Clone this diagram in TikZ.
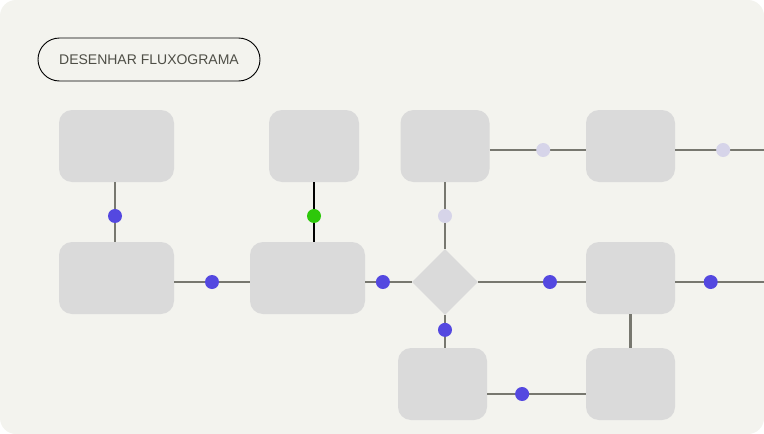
\documentclass[tikz,border=0pt]{standalone}
\usepackage{fontspec}
\setmainfont{Liberation Sans}
\usetikzlibrary{shapes.geometric}
\definecolor{bg}{HTML}{F3F3EE}
\definecolor{boxgray}{HTML}{DADADA}
\definecolor{linegray}{HTML}{77776F}
\definecolor{dotblue}{HTML}{5448E0}
\definecolor{dotgreen}{HTML}{2DC80A}
\definecolor{dotlav}{HTML}{D6D4E9}
\definecolor{labelgray}{HTML}{4E4E46}

\begin{document}
\begin{tikzpicture}[x=1pt, y=-1pt,
    block/.style={fill=boxgray, rounded corners=13pt, minimum height=72pt, inner sep=0pt},
    wideblock/.style={block, minimum width=115pt},
    narrowblock/.style={block, minimum width=89pt},
    choice/.style={diamond, fill=boxgray, minimum width=66pt, minimum height=66pt, inner sep=0pt},
    wire/.style={draw=linegray, line width=1.7pt},
    joint/.style={circle, fill=#1, minimum size=14pt, inner sep=0pt},
    pill/.style={draw=black, line width=0.9pt, rounded corners=21.5pt, minimum width=222pt, minimum height=43pt, text=labelgray, font=\fontsize{14}{16}\selectfont}]
    \useasboundingbox (0,0) rectangle (764,434);
    \fill[white] (0,0) rectangle (764,434);
    \fill[bg, rounded corners=16pt] (0,0) rectangle (764,434);
    \node[pill] (title) at (149,59.5) {DESENHAR FLUXOGRAMA};
    \node[wideblock] (a1) at (116.5,146) {};
    \node[wideblock] (a2) at (116.5,278) {};
    \node[narrowblock, minimum width=90pt] (b1) at (314,146) {};
    \node[wideblock] (b2) at (307.5,278) {};
    \node[narrowblock] (c1) at (445,146) {};
    \node[choice] (dec) at (445,282) {};
    \node[narrowblock] (c3) at (442.5,384) {};
    \node[narrowblock] (d1) at (630.5,146) {};
    \node[narrowblock] (d2) at (630.5,278) {};
    \node[narrowblock] (d3) at (630.5,384) {};
    \coordinate (out1) at (764,150);
    \coordinate (out2) at (764,282);
    \draw[wire, line width=2.1pt] ([xshift=-1.5pt]a1.south) -- node[joint=dotblue, pos=0.567] {} ([xshift=-1.5pt]a2.north);
    \draw[wire] ([yshift=-4pt]a2.east) -- node[joint=dotblue] {} ([yshift=-4pt]b2.west);
    \draw[black, line width=1.2pt] (b1.south) -- node[joint=dotgreen, pos=0.567] {} (b1.south |- b2.north);
    \draw[wire] ([yshift=-4pt]b2.east) -- node[joint=dotblue, pos=0.38] {} (dec.west);
    \draw[wire, line width=2.1pt] (c1.south) -- node[joint=dotlav, pos=0.507] {} (dec.north);
    \draw[wire] ([yshift=-4pt]c1.east) -- node[joint=dotlav, pos=0.557] {} ([yshift=-4pt]d1.west);
    \draw[wire] ([yshift=-4pt]d1.east) -- node[joint=dotlav, pos=0.54] {} (out1);
    \draw[wire] (dec.east) -- node[joint=dotblue, pos=0.667] {} ([yshift=-4pt]d2.west);
    \draw[wire] ([yshift=-4pt]d2.east) -- node[joint=dotblue, pos=0.40] {} (out2);
    \draw[wire, line width=2.1pt] (dec.south) -- node[joint=dotblue, pos=0.45] {} (dec.south |- c3.north);
    \draw[wire] ([yshift=-10pt]c3.east) -- node[joint=dotblue, pos=0.354] {} ([yshift=-10pt]d3.west);
    \draw[wire, line width=2.1pt] (d2) -- (d3);
\end{tikzpicture}
\end{document}
